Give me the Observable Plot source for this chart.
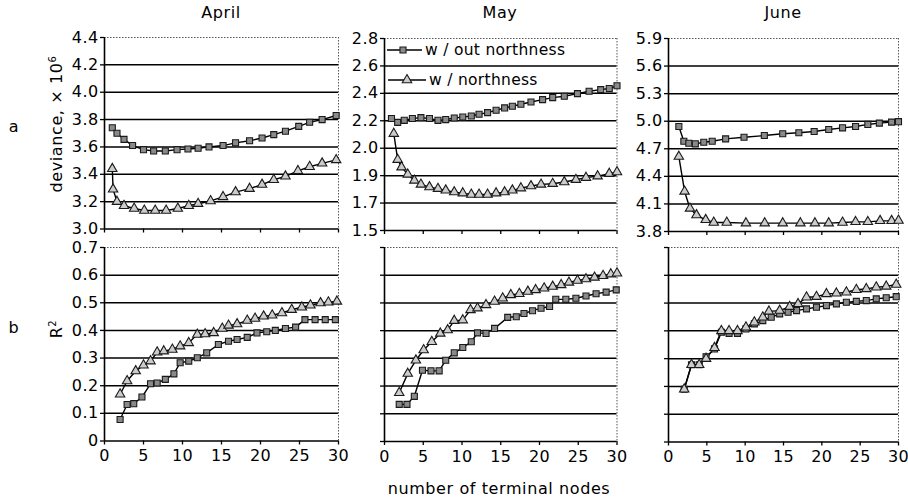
<!DOCTYPE html>
<html><head><meta charset="utf-8">
<script src="https://cdn.jsdelivr.net/npm/d3@7"></script>
<script src="https://cdn.jsdelivr.net/npm/@observablehq/plot@0.6"></script>
<style>
body{margin:0;background:#fff;}
#root{position:relative;width:908px;height:504px;overflow:hidden;background:#fff;font-family:"DejaVu Sans",Verdana,sans-serif;color:#000;}
.lbl{position:absolute;font-size:16px;letter-spacing:0.6px;white-space:nowrap;line-height:1;transform:translate(-50%,-50%);}
.rot{transform:translate(-50%,-50%) rotate(-90deg);}
sup{font-size:10px;vertical-align:6px;}
</style></head><body><div id="root"></div>
<script>
// ---------------- DATA ----------------
const months = ["April", "May", "June"];
const seriesNames = ["w / out northness", "w / northness"];
const xTickValues = [0, 5, 10, 15, 20, 25, 30];
const xTickLabels = ["0", "5", "10", "15", "20", "25", "30"];

const aprDevTickLabels = ["3.0", "3.2", "3.4", "3.6", "3.8", "4.0", "4.2", "4.4"];
const mayDevTickLabels = ["1.5", "1.7", "1.9", "2.0", "2.2", "2.4", "2.6", "2.8"];
const junDevTickLabels = ["3.8", "4.1", "4.4", "4.7", "5.0", "5.3", "5.6", "5.9"];
const r2TickLabels = ["0", "0.1", "0.2", "0.3", "0.4", "0.5", "0.6", "0.7"];

// deviance (x 10^6), April
const aprDevWoX = [1.0, 1.6, 2.5, 3.6, 5.0, 6.3, 7.8, 9.3, 10.7, 12.0, 13.4, 15.2, 16.8, 18.6, 20.2, 21.7, 23.2, 24.9, 26.3, 27.9, 29.7];
const aprDevWoY = [3.74, 3.70, 3.655, 3.61, 3.58, 3.57, 3.57, 3.58, 3.585, 3.59, 3.60, 3.61, 3.63, 3.645, 3.665, 3.69, 3.715, 3.75, 3.78, 3.80, 3.83];
const aprDevWX = [1.0, 1.1, 1.6, 2.5, 3.8, 5.1, 6.5, 7.9, 9.4, 10.8, 12.0, 13.6, 15.2, 16.8, 18.6, 20.2, 21.7, 23.2, 24.8, 26.3, 27.9, 29.7];
const aprDevWY = [3.44, 3.29, 3.20, 3.17, 3.15, 3.135, 3.135, 3.135, 3.15, 3.17, 3.185, 3.205, 3.235, 3.27, 3.295, 3.325, 3.36, 3.385, 3.425, 3.455, 3.48, 3.505];

// deviance, May
const mayDevWoX = [0.9, 1.7, 2.55, 3.6, 4.7, 5.8, 6.9, 7.9, 9.0, 10.1, 11.2, 12.2, 13.3, 14.4, 15.5, 16.5, 17.6, 18.9, 20.4, 21.7, 23.2, 24.9, 26.4, 27.9, 29.0, 30.0];
const mayDevWoY = [2.258, 2.232, 2.246, 2.258, 2.264, 2.258, 2.246, 2.251, 2.262, 2.268, 2.275, 2.287, 2.298, 2.314, 2.33, 2.341, 2.355, 2.37, 2.386, 2.40, 2.409, 2.427, 2.443, 2.454, 2.461, 2.48];
const mayDevWX = [1.2, 1.7, 2.2, 3.0, 3.85, 4.7, 5.8, 6.9, 7.9, 9.0, 10.1, 11.2, 12.2, 13.3, 14.4, 15.5, 16.5, 17.6, 18.9, 20.2, 21.7, 23.2, 24.7, 26.0, 27.5, 29.0, 30.0];
const mayDevWY = [2.156, 1.98, 1.929, 1.88, 1.839, 1.812, 1.794, 1.783, 1.772, 1.76, 1.753, 1.744, 1.744, 1.744, 1.753, 1.76, 1.772, 1.787, 1.801, 1.812, 1.817, 1.828, 1.844, 1.858, 1.868, 1.885, 1.896];

// deviance, June
const junDevWoX = [1.35, 2.0, 2.65, 3.5, 4.6, 5.7, 7.45, 9.85, 12.5, 14.9, 17.0, 19.0, 20.9, 22.7, 24.4, 26.0, 27.5, 29.1, 30.0];
const junDevWoY = [4.943, 4.782, 4.76, 4.754, 4.771, 4.782, 4.808, 4.826, 4.844, 4.863, 4.874, 4.888, 4.91, 4.928, 4.943, 4.965, 4.979, 4.99, 4.995];
const junDevWX = [1.35, 2.1, 2.8, 3.65, 4.85, 5.9, 7.6, 10.1, 12.55, 14.9, 17.2, 19.1, 20.9, 22.7, 24.4, 26.0, 27.6, 29.1, 30.0];
const junDevWY = [4.615, 4.236, 4.051, 3.979, 3.927, 3.898, 3.898, 3.891, 3.891, 3.891, 3.891, 3.891, 3.891, 3.898, 3.905, 3.905, 3.916, 3.916, 3.92];

// R^2, April
const aprR2WoX = [2.0, 2.9, 3.75, 4.8, 5.9, 6.75, 7.8, 8.9, 9.7, 10.8, 11.9, 13.1, 14.6, 15.9, 17.0, 18.3, 19.55, 20.8, 21.9, 23.2, 24.5, 25.7, 27.0, 28.3, 29.6];
const aprR2WoY = [0.078, 0.132, 0.135, 0.159, 0.207, 0.21, 0.223, 0.243, 0.283, 0.289, 0.301, 0.319, 0.349, 0.361, 0.367, 0.375, 0.391, 0.395, 0.40, 0.407, 0.412, 0.439, 0.439, 0.439, 0.439];
const aprR2WX = [2.0, 2.9, 4.0, 5.0, 5.9, 6.75, 7.6, 8.7, 9.7, 10.8, 11.9, 12.9, 14.0, 15.1, 15.9, 17.0, 18.3, 19.3, 20.4, 21.5, 22.75, 24.0, 25.3, 26.4, 27.7, 28.7, 29.8];
const aprR2WY = [0.169, 0.217, 0.253, 0.274, 0.289, 0.321, 0.325, 0.331, 0.343, 0.355, 0.385, 0.387, 0.391, 0.407, 0.418, 0.423, 0.436, 0.443, 0.451, 0.455, 0.463, 0.475, 0.484, 0.491, 0.499, 0.502, 0.505];

// R^2, May
const mayR2WoX = [1.9, 2.9, 3.85, 4.9, 6.0, 7.05, 7.9, 9.0, 10.1, 11.2, 12.0, 13.1, 14.2, 15.9, 17.0, 18.0, 19.1, 20.2, 21.3, 22.1, 23.4, 24.7, 26.0, 27.3, 28.6, 29.9];
const mayR2WoY = [0.134, 0.134, 0.163, 0.257, 0.255, 0.255, 0.293, 0.32, 0.339, 0.36, 0.392, 0.39, 0.408, 0.448, 0.45, 0.462, 0.472, 0.481, 0.487, 0.513, 0.513, 0.517, 0.525, 0.533, 0.539, 0.547];
const mayR2WX = [1.9, 3.0, 4.05, 5.05, 6.1, 7.2, 8.15, 9.0, 10.1, 11.1, 12.0, 13.1, 14.2, 15.25, 16.3, 17.4, 18.5, 19.5, 20.6, 21.7, 22.8, 23.8, 24.9, 26.0, 27.1, 28.2, 29.2, 30.0];
const mayR2WY = [0.176, 0.245, 0.293, 0.33, 0.36, 0.39, 0.402, 0.436, 0.438, 0.475, 0.481, 0.493, 0.505, 0.517, 0.529, 0.533, 0.541, 0.547, 0.553, 0.559, 0.565, 0.574, 0.581, 0.586, 0.592, 0.598, 0.604, 0.607];

// R^2, June
const junR2WoX = [2.05, 3.0, 4.0, 4.9, 6.0, 6.9, 7.9, 9.0, 10.1, 11.2, 12.3, 13.4, 14.5, 15.6, 16.7, 18.0, 19.3, 20.6, 21.9, 23.2, 24.5, 25.8, 27.1, 28.4, 29.7];
const junR2WoY = [0.19, 0.278, 0.278, 0.307, 0.335, 0.395, 0.391, 0.391, 0.407, 0.425, 0.437, 0.449, 0.461, 0.467, 0.473, 0.479, 0.485, 0.491, 0.497, 0.503, 0.506, 0.509, 0.515, 0.519, 0.523];
const junR2WX = [2.05, 3.0, 4.0, 4.9, 6.0, 6.9, 7.9, 9.0, 10.1, 11.2, 12.3, 13.1, 14.5, 15.8, 16.9, 18.0, 19.3, 20.6, 21.9, 23.2, 24.5, 25.8, 27.1, 28.4, 29.7];
const junR2WY = [0.19, 0.278, 0.278, 0.30, 0.339, 0.40, 0.40, 0.40, 0.413, 0.431, 0.449, 0.47, 0.473, 0.487, 0.497, 0.521, 0.523, 0.533, 0.535, 0.539, 0.548, 0.551, 0.557, 0.56, 0.567];

// ---------------- LAYOUT ----------------
const zip = (xs, ys) => xs.map((x, i) => ({x, y: ys[i]}));
const root = document.getElementById("root");
const FONT = "DejaVu Sans, Verdana, sans-serif";

const panels = [
  {L: 104, R: 338, T: 37, B: 228.5, domain: [3.0, 4.4], labels: aprDevTickLabels, showY: true, showX: false, wo: zip(aprDevWoX, aprDevWoY), w: zip(aprDevWX, aprDevWY)},
  {L: 384, R: 616.5, T: 38, B: 230, domain: [1.5, 2.8], labels: mayDevTickLabels, showY: true, showX: false, wo: zip(mayDevWoX, mayDevWoY), w: zip(mayDevWX, mayDevWY)},
  {L: 668, R: 898, T: 38, B: 231, domain: [3.8, 5.9], labels: junDevTickLabels, showY: true, showX: false, wo: zip(junDevWoX, junDevWoY), w: zip(junDevWX, junDevWY)},
  {L: 104, R: 338, T: 246.5, B: 440, domain: [0, 0.7], labels: r2TickLabels, showY: true, showX: true, wo: zip(aprR2WoX, aprR2WoY), w: zip(aprR2WX, aprR2WY)},
  {L: 383.5, R: 616, T: 247, B: 441, domain: [0, 0.7], labels: r2TickLabels, showY: false, showX: true, wo: zip(mayR2WoX, mayR2WoY), w: zip(mayR2WX, mayR2WY)},
  {L: 667.5, R: 897.5, T: 246.5, B: 441, domain: [0, 0.7], labels: r2TickLabels, showY: false, showX: true, wo: zip(junR2WoX, junR2WoY), w: zip(junR2WX, junR2WY)}
];

const squareStyle = {symbol: "square", r: 3.4, fill: "#8a8a8a", stroke: "#1a1a1a", strokeWidth: 1.1};
const triStyle = {symbol: "triangle", r: 3.5, fill: "#cccccc", stroke: "#1a1a1a", strokeWidth: 1.1};

panels.forEach(p => {
  const ml = 50, mt = 8, mr = 8, mb = 28;
  const [y0, y1] = p.domain;
  const n = p.labels.length;
  const yTicks = p.labels.map((_, i) => y0 + i * (y1 - y0) / (n - 1));
  const yFmt = d => {
    if (!p.showY) return "";
    const i = Math.round((d - y0) / ((y1 - y0) / (n - 1)));
    return p.labels[i];
  };
  const xFmt = d => p.showX ? xTickLabels[xTickValues.indexOf(d)] : "";
  const chart = Plot.plot({
    width: p.R - p.L + ml + mr,
    height: p.B - p.T + mt + mb,
    marginLeft: ml, marginRight: mr, marginTop: mt, marginBottom: mb,
    x: {domain: [0, 30]},
    y: {domain: p.domain},
    style: {fontFamily: FONT, fontSize: "16px", letterSpacing: "0.4px", background: "transparent", overflow: "visible", color: "#000"},
    marks: [
      Plot.ruleY(yTicks.slice(1, -1), {stroke: "#000", strokeWidth: 1.5}),
      Plot.ruleY([y1], {stroke: "#555", strokeWidth: 1, strokeDasharray: "1.5,1.5"}),
      Plot.ruleX([30], {stroke: "#555", strokeWidth: 1, strokeDasharray: "1.5,1.5"}),
      Plot.axisY(yTicks, {tickSize: 4, tickPadding: 2, tickFormat: yFmt, label: null, strokeWidth: 1.3}),
      Plot.axisX(xTickValues, {tickSize: 4, tickPadding: 5, tickFormat: xFmt, label: null, strokeWidth: 1.3}),
      Plot.ruleX([0], {stroke: "#000", strokeWidth: 1.6}),
      Plot.ruleY([y0], {stroke: "#000", strokeWidth: 1.6}),
      Plot.line(p.wo, {x: "x", y: "y", stroke: "#000", strokeWidth: 1.4}),
      Plot.line(p.w, {x: "x", y: "y", stroke: "#000", strokeWidth: 1.4}),
      Plot.dot(p.wo, {x: "x", y: "y", ...squareStyle}),
      Plot.dot(p.w, {x: "x", y: "y", ...triStyle})
    ]
  });
  chart.style.position = "absolute";
  chart.style.left = (p.L - ml) + "px";
  chart.style.top = (p.T - mt) + "px";
  root.appendChild(chart);
});

// ---------------- LEGEND (inside May deviance panel) ----------------
const leg = d3.select(root).append("svg")
  .attr("width", 200).attr("height", 60)
  .style("position", "absolute").style("left", "384px").style("top", "38px")
  .style("font-family", FONT).style("font-size", "15.5px").style("letter-spacing", "0.3px");
const legItems = [
  {name: seriesNames[0], y: 12, x1: 3, x2: 38, mx: 19, tx: 41, st: squareStyle},
  {name: seriesNames[1], y: 42, x1: 4, x2: 42, mx: 23, tx: 45, st: triStyle}
];
legItems.forEach(it => {
  leg.append("line").attr("x1", it.x1).attr("x2", it.x2).attr("y1", it.y).attr("y2", it.y)
    .attr("stroke", "#000").attr("stroke-width", 1.4);
  const sym = it.st.symbol === "square" ? d3.symbolSquare : d3.symbolTriangle;
  leg.append("path").attr("d", d3.symbol(sym, Math.PI * it.st.r * it.st.r)())
    .attr("transform", `translate(${it.mx},${it.y})`)
    .attr("fill", it.st.fill).attr("stroke", it.st.stroke).attr("stroke-width", 1.1);
  leg.append("text").attr("x", it.tx).attr("y", it.y).attr("dy", "0.35em").text(it.name);
});

// ---------------- TEXT LABELS ----------------
function label(html, x, y, cls) {
  const d = document.createElement("div");
  d.className = "lbl" + (cls ? " " + cls : "");
  d.style.left = x + "px";
  d.style.top = y + "px";
  d.innerHTML = html;
  root.appendChild(d);
}
label(months[0], 221, 13);
label(months[1], 500, 13);
label(months[2], 783, 13);
label("a", 14, 127);
label("b", 14, 328);
label("deviance, × 10<sup>6</sup>", 56, 124, "rot");
label("R<sup>2</sup>", 56, 329, "rot");
label("number of terminal nodes", 499, 489);
</script></body></html>
